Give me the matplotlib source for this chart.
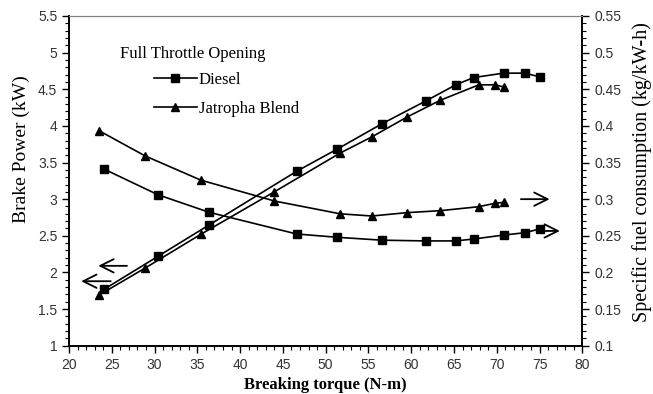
import matplotlib
matplotlib.use("Agg")
import matplotlib.pyplot as plt
from matplotlib.ticker import MultipleLocator

# breaking torque (N-m)
torque_diesel = [24.1, 30.4, 36.4, 46.6, 51.3, 56.6, 61.7, 65.2, 67.3, 70.8, 73.3, 75.0]
torque_jatropha = [23.5, 28.9, 35.4, 44.0, 51.7, 55.4, 59.5, 63.4, 67.9, 69.8, 70.85]

# brake power (kW)
bp_diesel = [1.77, 2.22, 2.65, 3.38, 3.68, 4.03, 4.34, 4.56, 4.66, 4.72, 4.72, 4.67]
bp_jatropha = [1.69, 2.06, 2.52, 3.10, 3.63, 3.85, 4.12, 4.35, 4.56, 4.56, 4.53]

# specific fuel consumption (kg/kW-h)
sfc_diesel = [0.341, 0.306, 0.282, 0.2525, 0.248, 0.244, 0.243, 0.243, 0.2456, 0.251, 0.2542, 0.2593]
sfc_jatropha = [0.3935, 0.359, 0.326, 0.2975, 0.280, 0.277, 0.2816, 0.2843, 0.2897, 0.2944, 0.2957]

x_ticks = list(range(20, 81, 5))
bp_ticks = [1, 1.5, 2, 2.5, 3, 3.5, 4, 4.5, 5, 5.5]
sfc_ticks = [0.1, 0.15, 0.2, 0.25, 0.3, 0.35, 0.4, 0.45, 0.5, 0.55]

serif = "Liberation Serif"
tick_font = {"family": "Liberation Sans", "size": 10}

fig = plt.figure(figsize=(6.53, 3.94), dpi=100)
ax = fig.add_axes([0.1057, 0.1226, 0.786, 0.8368])
ax2 = ax.twinx()

line_kw = dict(color="black", linewidth=1.2)
ax.plot(torque_diesel, bp_diesel, marker="s", markersize=6, label="Diesel", **line_kw)
ax.plot(torque_jatropha, bp_jatropha, marker="^", markersize=6, label="Jatropha Blend", **line_kw)
ax2.plot(torque_diesel, sfc_diesel, marker="s", markersize=6, **line_kw)
ax2.plot(torque_jatropha, sfc_jatropha, marker="^", markersize=6, **line_kw)

ax.set_xlim(20, 80)
ax.set_ylim(1, 5.5)
ax2.set_ylim(0.1, 0.55)

ax.set_xticks(x_ticks)
ax.set_xticklabels([str(v) for v in x_ticks], fontdict=tick_font)
ax.set_yticks(bp_ticks)
ax.set_yticklabels(["%g" % v for v in bp_ticks], fontdict=tick_font)
ax2.set_yticks(sfc_ticks)
ax2.set_yticklabels(["%g" % v for v in sfc_ticks], fontdict=tick_font)
ax.xaxis.set_minor_locator(MultipleLocator(1))
ax.yaxis.set_minor_locator(MultipleLocator(0.1))
ax2.yaxis.set_minor_locator(MultipleLocator(0.01))

for a in (ax, ax2):
    a.tick_params(which="major", direction="out", length=5, width=1, colors="black",
                  labelcolor="#333333")
    a.tick_params(which="minor", direction="out", length=3, width=0.8, colors="black")
    a.tick_params(axis="x", which="both", top=False)
    a.spines["top"].set_color("#808080")
    for side in ("left", "bottom", "right"):
        a.spines[side].set_linewidth(1.2)

ax.set_xlabel("Breaking torque (N-m)", fontfamily=serif, fontsize=12, fontweight="bold",
              labelpad=4)
ax.set_ylabel("Brake Power (kW)", fontfamily=serif, fontsize=14)
ax.yaxis.set_label_coords(-0.077, 0.595)
ax2.set_ylabel("Specific fuel consumption (kg/kW-h)", fontfamily=serif, fontsize=14.5)
ax2.yaxis.set_label_coords(1.097, 0.527)

# legend
ax.text(0.1, 0.885, "Full Throttle Opening", transform=ax.transAxes,
        fontfamily=serif, fontsize=12, va="center", ha="left")
ax.legend(loc="upper left", bbox_to_anchor=(0.165, 0.83), frameon=False,
          prop={"family": serif, "size": 12}, handlelength=2.6, handletextpad=0.1,
          labelspacing=0.75, borderpad=0, borderaxespad=0)

# arrows pointing to the axis each group belongs to
arrow = dict(arrowstyle="->", color="black", lw=1.3, mutation_scale=24)
ax.annotate("", xy=(23.1, 2.09), xytext=(27.1, 2.09), arrowprops=arrow)
ax.annotate("", xy=(21.1, 1.88), xytext=(25.2, 1.88), arrowprops=arrow)
ax2.annotate("", xy=(76.5, 0.30), xytext=(72.5, 0.30), arrowprops=arrow)
ax2.annotate("", xy=(77.7, 0.2566), xytext=(75.0, 0.2566), arrowprops=arrow)

fig.savefig("out.png", dpi=100)
